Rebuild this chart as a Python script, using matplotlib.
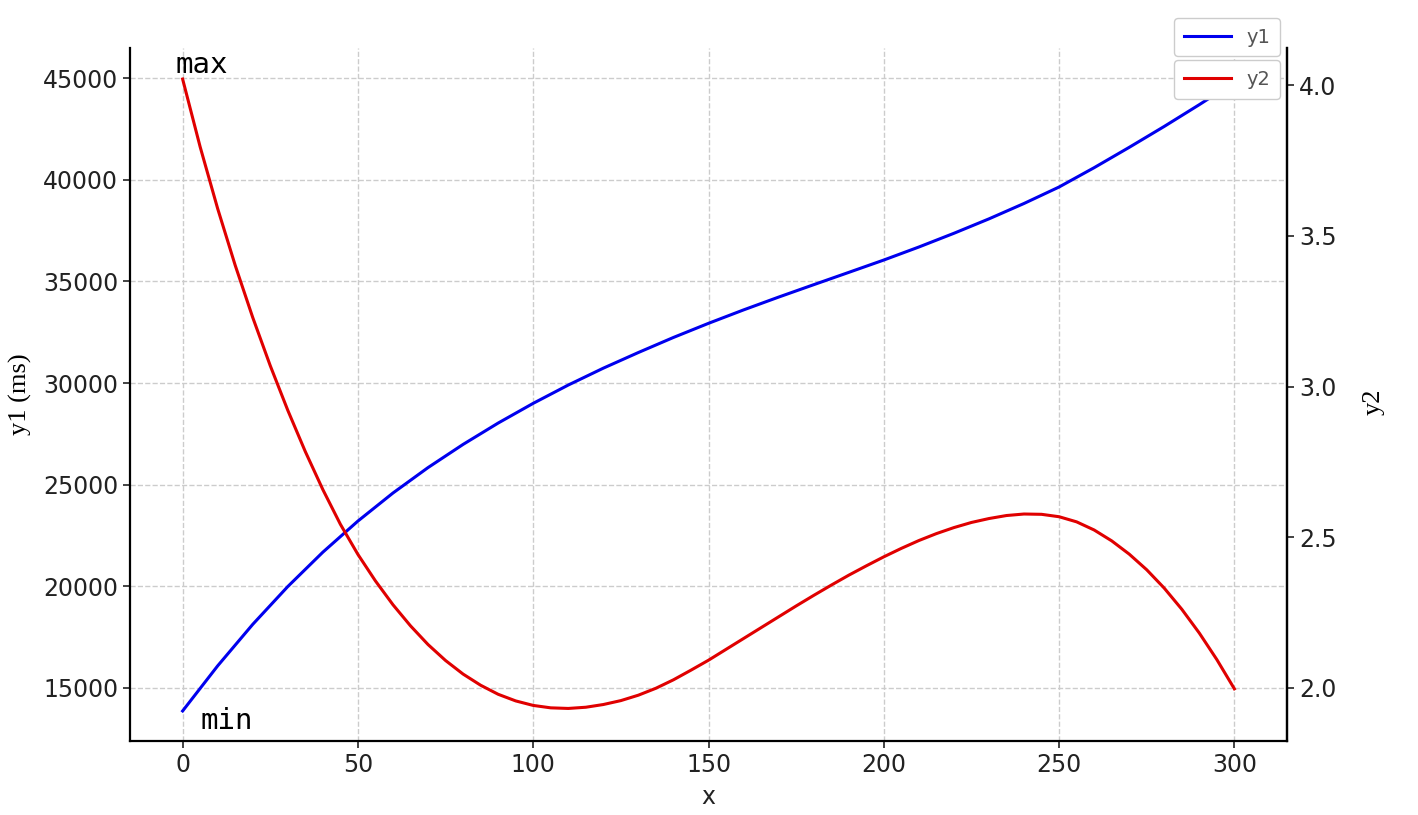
import numpy as np
import matplotlib
matplotlib.use('Agg')
import matplotlib.pyplot as plt

params = {'font.size': 17,
          'axes.linewidth': 1.6,
          'xtick.labelsize': 17,
          'ytick.labelsize': 17,
          'xtick.color': '#222222',
          'ytick.color': '#222222',
          'lines.linewidth': 2.2,
          'grid.linestyle': '--',
          'grid.linewidth': 1.0,
          'grid.color': '#cccccc'}
plt.rcParams.update(params)

# values
x1 = [0, 10, 20, 30, 40, 50, 60, 70, 80, 90, 100, 110, 120, 130, 140, 150,
      160, 170, 180, 190, 200, 210, 220, 230, 240, 250, 260, 270, 280, 290, 300]
y1 = [13870, 16090, 18130, 19990, 21680, 23210, 24590, 25840, 26980, 28030,
      29000, 29900, 30730, 31500, 32240, 32935, 33595, 34225, 34835, 35440,
      36048, 36688, 37363, 38073, 38830, 39640, 40590, 41590, 42620, 43690, 44800]

x2 = [0, 5, 10, 15, 20, 25, 30, 35, 40, 45, 50, 55, 60, 65, 70, 75, 80, 85,
      90, 95, 100, 105, 110, 115, 120, 125, 130, 135, 140, 145, 150, 155, 160,
      165, 170, 175, 180, 185, 190, 195, 200, 205, 210, 215, 220, 225, 230,
      235, 240, 245, 250, 255, 260, 265, 270, 275, 280, 285, 290, 295, 300]
y2 = [4.02, 3.795, 3.59, 3.402, 3.229, 3.069, 2.921, 2.784, 2.658, 2.543,
      2.443, 2.355, 2.276, 2.206, 2.144, 2.091, 2.046, 2.009, 1.979, 1.957,
      1.942, 1.934, 1.932, 1.936, 1.945, 1.958, 1.976, 1.999, 2.027, 2.059,
      2.092, 2.128, 2.164, 2.200, 2.236, 2.272, 2.307, 2.341, 2.374, 2.405,
      2.435, 2.463, 2.489, 2.512, 2.532, 2.549, 2.562, 2.572, 2.577, 2.576,
      2.568, 2.551, 2.524, 2.488, 2.444, 2.392, 2.331, 2.261, 2.182, 2.094, 1.997]

y1_ticks = [15000, 20000, 25000, 30000, 35000, 40000, 45000]
y2_ticks = [2.0, 2.5, 3.0, 3.5, 4.0]
x_ticks = [0, 50, 100, 150, 200, 250, 300]

fig = plt.figure(figsize=(14.18, 8.15), dpi=100)
ax = fig.add_axes([0.0917, 0.0908, 0.8159, 0.8503])
ax2 = ax.twinx()

l1, = ax.plot(x1, y1, color='#0000ee', label='y1')
l2, = ax2.plot(x2, y2, color='#e00000', label='y2')

ax.set_xlim(-15, 315)
ax.set_ylim(12393, 46476)
ax2.set_ylim(1.824, 4.123)
ax.set_xticks(x_ticks)
ax.set_yticks(y1_ticks)
ax2.set_yticks(y2_ticks)
ax2.set_yticklabels(['2.0', '2.5', '3.0', '3.5', '4.0'])

ax.grid(True)
ax.tick_params(length=5, width=1.2)
ax2.tick_params(length=5, width=1.2)
for a in (ax, ax2):
    a.spines['top'].set_visible(False)
ax2.spines['left'].set_visible(False)
ax2.spines['bottom'].set_visible(False)

ax.set_xlabel('x', color='#222222', labelpad=6)
ax.set_ylabel('y1 (ms)', family='Liberation Serif', fontsize=19)
ax.yaxis.set_label_coords(-0.0845, 0.5)
ax2.set_ylabel('y2', family='Liberation Serif', fontsize=19)
ax2.yaxis.set_label_coords(1.065, 0.49)

ax.text(-2, 45250, 'max', family='DejaVu Sans Mono', fontsize=21, va='baseline')
ax.text(5, 12980, 'min', family='DejaVu Sans Mono', fontsize=21, va='baseline')

leg1 = fig.legend(handles=[l1], loc='upper right', bbox_to_anchor=(0.9027, 0.978),
                  fontsize=14, handlelength=2.4, borderaxespad=0, framealpha=1,
                  borderpad=0.5)
leg2 = fig.legend(handles=[l2], loc='upper right', bbox_to_anchor=(0.9027, 0.926),
                  fontsize=14, handlelength=2.4, borderaxespad=0, framealpha=1,
                  borderpad=0.5)
for t in leg1.get_texts() + leg2.get_texts():
    t.set_color('#555555')

plt.savefig('out.png', dpi=100)
